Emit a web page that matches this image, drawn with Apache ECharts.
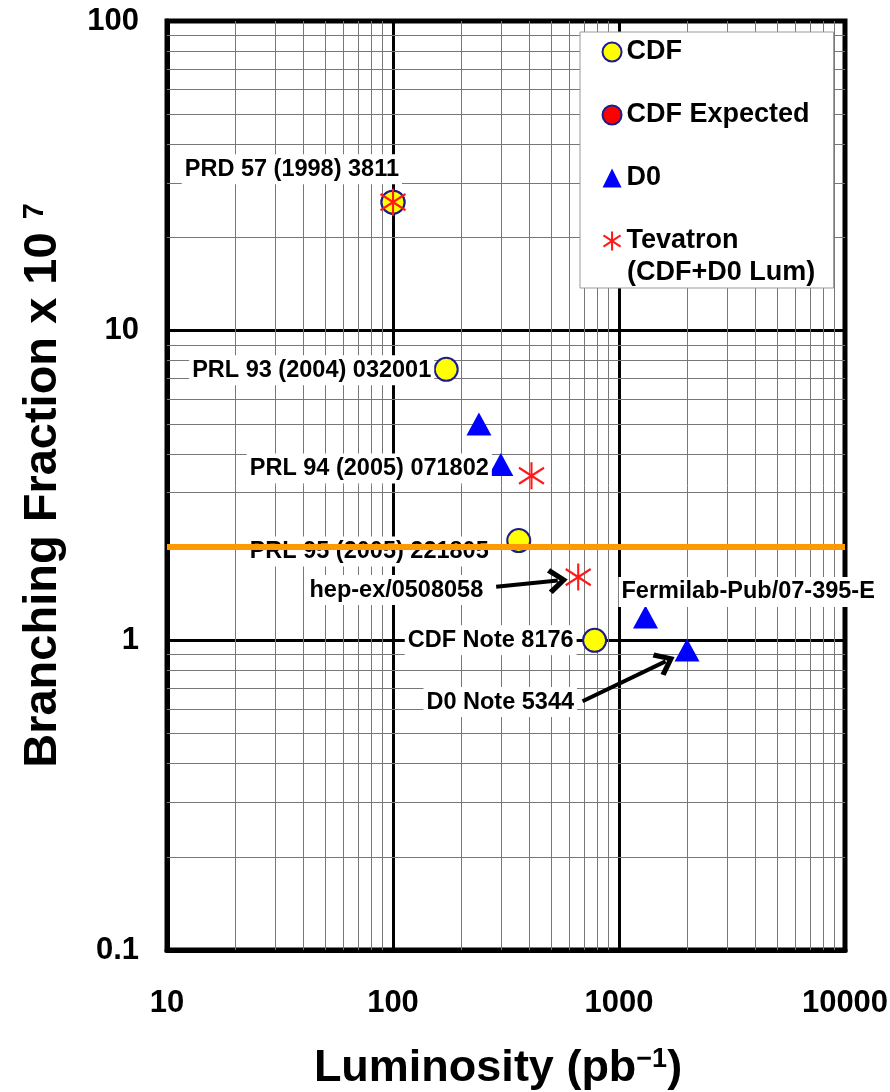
<!DOCTYPE html>
<html><head><meta charset="utf-8">
<script src="https://cdn.jsdelivr.net/npm/echarts@6/dist/echarts.min.js"></script>
<style>html,body{margin:0;padding:0;background:#fff}#c{width:890px;height:1092px}</style>
</head><body><div id="c"></div>
<script>
// ---- data ----
const cdfLum = [100, 172, 360, 780];
const cdfBF = [26, 7.5, 2.1, 1.0];
const cdfRefs = ['PRD 57 (1998) 3811', 'PRL 93 (2004) 032001', 'PRL 95 (2005) 221805', 'CDF Note 8176'];
const cdfExpLum = [100];
const cdfExpBF = [26];
const d0Lum = [240, 300, 1310, 2000];
const d0BF = [5.0, 3.7, 1.19, 0.93];
const d0Refs = ['', 'PRL 94 (2005) 071802', 'Fermilab-Pub/07-395-E', 'D0 Note 5344'];
const tevLum = [100, 410, 660];
const tevBF = [26, 3.4, 1.6];
const tevRefs = ['', '', 'hep-ex/0508058'];
const xRange = [10, 10000];
const yRange = [0.1, 100];
const highlightBF = 2.0;
// arrows: [from, to] in data coordinates
const arrowFrom = [[286, 1.49], [690, 0.636]];
const arrowTo = [[536, 1.56], [1607, 0.855]];
const tevName = 'Tevatron';
const tevSubName = '(CDF+D0 Lum)';

// ---- styling ----
const FONT = 'Liberation Sans, Arial, sans-serif';
const labelPlace = {
  'PRD 57 (1998) 3811': {dx: 9, dy: -33, align: 'right'},
  'PRL 93 (2004) 032001': {dx: -12, dy: 1, align: 'right'},
  'PRL 95 (2005) 221805': {dx: -27, dy: 11, align: 'right'},
  'CDF Note 8176': {dx: -18, dy: 0, align: 'right'},
  'PRL 94 (2005) 071802': {dx: -9, dy: 4, align: 'right'},
  'Fermilab-Pub/07-395-E': {dx: -27, dy: -25, align: 'left'},
  'D0 Note 5344': {dx: -110, dy: 52, align: 'right'},
  'hep-ex/0508058': {dx: -92, dy: 13, align: 'right'}
};
function pts(xs, ys, refs) {
  return xs.map((x, i) => {
    const r = refs ? refs[i] : '';
    const item = {value: [x, ys[i]], name: r};
    if (r) {
      const p = labelPlace[r];
      item.label = {
        show: true, formatter: r, position: 'inside', align: p.align, verticalAlign: 'middle',
        offset: [p.dx, p.dy], color: '#000', fontFamily: FONT, fontWeight: 'bold', fontSize: 23.5,
        backgroundColor: '#fff', padding: [3, 3]
      };
    }
    return item;
  });
}
function minorLines(range, axisKey) {
  const out = [];
  for (let d = range[0]; d < range[1] * 0.999; d *= 10) {
    for (let m = 2; m <= 9; m++) out.push({[axisKey]: +(d * m).toPrecision(6)});
  }
  return out;
}
const asterisk = 'path://M0,-10 L0,10 M-9,-6 L9,6 M-9,6 L9,-6';
const chevron = 'path://M0,0 L10,11 L7,13.5 L0,5.5 L-7,13.5 L-10,11 Z';

const option = {
  animation: false,
  backgroundColor: '#fff',
  grid: {left: 167, right: 45, top: 21, bottom: 142, show: true, borderColor: '#000', borderWidth: 5,
    backgroundColor: 'transparent', containLabel: false, outerBoundsMode: 'none'},
  xAxis: {
    type: 'log', logBase: 10, min: xRange[0], max: xRange[1],
    name: 'Luminosity (pb{s|−1})', nameLocation: 'middle', nameGap: 96,
    nameTextStyle: {color: '#000', fontFamily: FONT, fontWeight: 'bold', fontSize: 45, padding: [0, 16, 0, 0],
      rich: {s: {fontFamily: FONT, fontWeight: 'bold', fontSize: 27, verticalAlign: 'top', color: '#000'}}},
    axisLine: {show: true, lineStyle: {color: '#000', width: 5}},
    axisTick: {show: false},
    axisLabel: {color: '#000', fontFamily: FONT, fontWeight: 'bold', fontSize: 31, margin: 38,
      formatter: v => String(+v.toPrecision(3))},
    splitLine: {show: true, lineStyle: {color: '#000', width: 3}}
  },
  yAxis: {
    type: 'log', logBase: 10, min: yRange[0], max: yRange[1],
    name: 'Branching Fraction x 10 {s|7}', nameLocation: 'middle', nameGap: 100, nameRotate: 90,
    nameTextStyle: {color: '#000', fontFamily: FONT, fontWeight: 'bold', fontSize: 47,
      rich: {s: {fontFamily: FONT, fontWeight: 'bold', fontSize: 29, verticalAlign: 'top', color: '#000'}}},
    axisLine: {show: true, lineStyle: {color: '#000', width: 5}},
    axisTick: {show: false},
    axisLabel: {color: '#000', fontFamily: FONT, fontWeight: 'bold', fontSize: 31, margin: 28,
      formatter: v => String(+v.toPrecision(3))},
    splitLine: {show: true, lineStyle: {color: '#000', width: 3}}
  },
  legend: {
    orient: 'vertical', left: 580, top: 32, z: 20,
    data: ['CDF', 'CDF Expected', 'D0', tevName],
    backgroundColor: '#fff', borderColor: '#999', borderWidth: 1, borderRadius: 0,
    padding: [4, 24, 31, 21], itemGap: 31, itemWidth: 19, itemHeight: 19,
    textStyle: {color: '#000', fontFamily: FONT, fontWeight: 'bold', fontSize: 27, lineHeight: 32}
  },
  graphic: [{
    type: 'text', left: 627, top: 259, z: 21,
    style: {text: tevSubName, fill: '#000', font: 'bold 27px ' + FONT}
  }],
  series: [
    {
      name: 'grid-minor', type: 'scatter', data: [], z: 0, silent: true,
      markLine: {silent: true, z: 1, symbol: ['none', 'none'], label: {show: false}, animation: false,
        lineStyle: {color: '#777', width: 1, type: 'solid'},
        data: minorLines(xRange, 'xAxis').concat(minorLines(yRange, 'yAxis'))}
    },
    {
      name: 'CDF Expected', type: 'scatter', z: 2, symbol: 'circle', symbolSize: 23,
      itemStyle: {color: '#ff0000', borderColor: '#1c1c8c', borderWidth: 2, opacity: 1},
      data: pts(cdfExpLum, cdfExpBF)
    },
    {
      name: 'CDF', type: 'scatter', z: 3, symbol: 'circle', symbolSize: 23,
      itemStyle: {color: '#ffff00', borderColor: '#1c1c8c', borderWidth: 2, opacity: 1},
      data: pts(cdfLum, cdfBF, cdfRefs)
    },
    {
      name: 'D0', type: 'scatter', z: 3, symbol: 'triangle', symbolSize: [25, 23],
      itemStyle: {color: '#0000ff', opacity: 1},
      data: pts(d0Lum, d0BF, d0Refs)
    },
    {
      name: tevName, type: 'scatter', z: 4, symbol: asterisk, symbolSize: [25, 27],
      itemStyle: {color: 'none', borderColor: '#ff1a1a', borderWidth: 2.2, opacity: 1},
      data: pts(tevLum, tevBF, tevRefs)
    },
    {
      name: 'annotations', type: 'scatter', data: [], z: 10, silent: true,
      markLine: {silent: true, z: 6, animation: false, symbol: ['none', 'none'], label: {show: false},
        data: [
          {yAxis: highlightBF, lineStyle: {color: '#ff9900', width: 6, type: 'solid'}}
        ].concat(arrowFrom.map((f, i) => [
          {coord: f, symbol: 'none', lineStyle: {color: '#000', width: 4, type: 'solid'}},
          {coord: arrowTo[i], symbol: chevron, symbolSize: [26, 20]}
        ]))
      }
    }
  ]
};
const chart = echarts.init(document.getElementById('c'), null, {renderer: 'canvas'});
chart.setOption(option);
</script>
</body></html>
